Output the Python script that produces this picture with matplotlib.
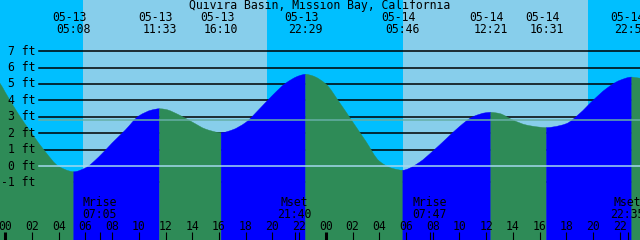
import matplotlib
matplotlib.use("Agg")
import matplotlib.pyplot as plt
from matplotlib.path import Path
from matplotlib.patches import PathPatch
import numpy as np

title = "Quivira Basin, Mission Bay, California"

# hours counted from 00:00 on 05-13
tide_hours = [5 + 8/60, 11 + 33/60, 16 + 10/60, 22 + 29/60,
              29 + 46/60, 36 + 21/60, 40 + 31/60, 46 + 54/60]
tide_ft = [-0.35, 3.49, 2.03, 5.59, -0.26, 3.27, 2.34, 5.42]
tide_dates = ["05-13", "05-13", "05-13", "05-13", "05-14", "05-14", "05-14", "05-14"]
tide_times = ["05:08", "11:33", "16:10", "22:29", "05:46", "12:21", "16:31", "22:54"]

# heights
curve_hours = [-1, -0.39, 0, 1, 2, 3, 4, 5,
               6, 7, 8, 9, 10, 11,
               12, 13, 14, 15, 16,
               17, 18, 19, 20, 21, 22,
               23, 24, 25, 26, 27, 28, 29,
               30, 31, 32, 33, 34, 35, 36,
               37, 38, 39, 40,
               41, 42, 43, 44, 45, 46, 47, 48]
curve_ft = [5.55, 5.04, 4.5, 3.15, 1.98, 0.87, -0.02, -0.34,
            -0.12, 0.55, 1.4, 2.2, 3.05, 3.42,
            3.45, 3.12, 2.68, 2.25, 2.04,
            2.2, 2.65, 3.45, 4.3, 5.05, 5.5,
            5.5, 5.0, 3.9, 2.7, 1.5, 0.3, -0.15,
            -0.22, 0.22, 0.9, 1.65, 2.4, 3.0, 3.25,
            3.2, 2.8, 2.5, 2.37,
            2.38, 2.58, 3.2, 4.0, 4.72, 5.22, 5.41, 5.3]

sunrise_hours = [5.82, 29.78]
sunset_hours = [19.6, 43.62]

moon_names = ["Mrise", "Mset", "Mrise", "Mset"]
moon_times = ["07:05", "21:40", "07:47", "22:35"]
moon_days = [0, 0, 1, 1]

ft_levels = [7, 6, 5, 4, 3, 2, 1, 0, -1]
datum_ft = 0
mean_ft = 2.79
hour_ticks = list(range(0, 49, 2))

day_col = "#87CEEB"
night_col = "#00BFFF"
flood_col = "#0000FF"
ebb_col = "#2E8B57"

W, H = 640, 240
fig = plt.figure(figsize=(W / 100, H / 100), dpi=100)
ax = fig.add_axes([0, 0, 1, 1])
ax.set_axis_off()
x0, x1 = -0.39, 47.515
y0, y1 = -4.51, 10.12
ax.set_xlim(x0, x1)
ax.set_ylim(y0, y1)

font = dict(family="DejaVu Sans Mono", fontsize=8.3, color="black")
xt = ax.get_xaxis_transform()


def fy(p):
    # pixel row from the top -> axes fraction
    return 1 - p / H


def water_path(xs, ys, flat_start, flat_end, bottom):
    # smooth bezier path through the points, flat at the high/low waters
    n = len(xs)
    d = np.diff(ys) / np.diff(xs)
    m = np.zeros(n)
    for i in range(1, n - 1):
        if d[i - 1] * d[i] > 0:
            m[i] = 2 / (1 / d[i - 1] + 1 / d[i])
    m[0] = 0 if flat_start else d[0]
    m[-1] = 0 if flat_end else d[-1]
    verts = [(xs[0], bottom), (xs[0], ys[0])]
    codes = [Path.MOVETO, Path.LINETO]
    for i in range(n - 1):
        dx = xs[i + 1] - xs[i]
        verts += [(xs[i] + dx / 3, ys[i] + m[i] * dx / 3),
                  (xs[i + 1] - dx / 3, ys[i + 1] - m[i + 1] * dx / 3),
                  (xs[i + 1], ys[i + 1])]
        codes += [Path.CURVE4] * 3
    verts += [(xs[-1], bottom), (xs[0], bottom)]
    codes += [Path.LINETO, Path.CLOSEPOLY]
    return Path(verts, codes)


# day / night background
ax.axvspan(x0 - 2, x1 + 2, color=night_col, lw=0, zorder=0)
for r, s in zip(sunrise_hours, sunset_hours):
    ax.axvspan(r, s, color=day_col, lw=0, zorder=0)

# grid lines (hidden by the water)
for lv in ft_levels:
    if lv != datum_ft:
        ax.axhline(lv, xmin=39 / W, xmax=1, color="black", lw=1.1, zorder=1)

# water, green while falling, blue while rising
hrs = np.array(curve_hours + tide_hours)
fts = np.array(curve_ft + tide_ft)
order = np.argsort(hrs)
hrs, fts = hrs[order], fts[order]
edges = [hrs[0]] + tide_hours + [hrs[-1]]
for i in range(len(edges) - 1):
    m = (hrs >= edges[i] - 1e-6) & (hrs <= edges[i + 1] + 1e-6)
    col = ebb_col if i % 2 == 0 else flood_col
    p = water_path(hrs[m], fts[m], i > 0, i < len(edges) - 2, y0 - 1)
    ax.add_patch(PathPatch(p, facecolor=col, edgecolor=col, lw=0.3, zorder=2))

ax.axhline(mean_ft, xmin=39 / W, xmax=1, color="#66AFA6", lw=1.1, zorder=3)
ax.axhline(datum_ft, xmin=39 / W, xmax=1, color="#A4D9EE", lw=1.1, zorder=3)

# feet labels
for lv in ft_levels:
    ax.text(35 / W, lv, f"{lv} ft", transform=ax.get_yaxis_transform(),
            ha="right", va="center", zorder=4, **font)

# title and tide labels
ax.text(0.5, fy(9.3), title, transform=ax.transAxes, ha="center",
        va="baseline", zorder=4, **font)
for h, d, t in zip(tide_hours, tide_dates, tide_times):
    ax.text(h - 0.3, fy(21), d, transform=xt, ha="center", va="baseline", zorder=4, **font)
    ax.text(h, fy(33.3), t, transform=xt, ha="center", va="baseline", zorder=4, **font)

# moon events
for name, t, d in zip(moon_names, moon_times, moon_days):
    hh, mm = t.split(":")
    h = d * 24 + int(hh) + int(mm) / 60
    ax.text(h, fy(206), name, transform=xt, ha="center", va="baseline", zorder=4, **font)
    ax.text(h, fy(218.3), t, transform=xt, ha="center", va="baseline", zorder=4, **font)
    ax.vlines(h, fy(240), fy(232), transform=xt, color="black", lw=0.8, zorder=4)

# hour axis
for h in hour_ticks:
    ax.text(h, fy(230), f"{h % 24:02d}", transform=xt, ha="center",
            va="baseline", zorder=4, **font)
    lw = 2.2 if h % 24 == 0 else 0.8
    ax.vlines(h, fy(240), fy(232), transform=xt, color="black", lw=lw, zorder=4)

fig.savefig("out.png", dpi=100)
